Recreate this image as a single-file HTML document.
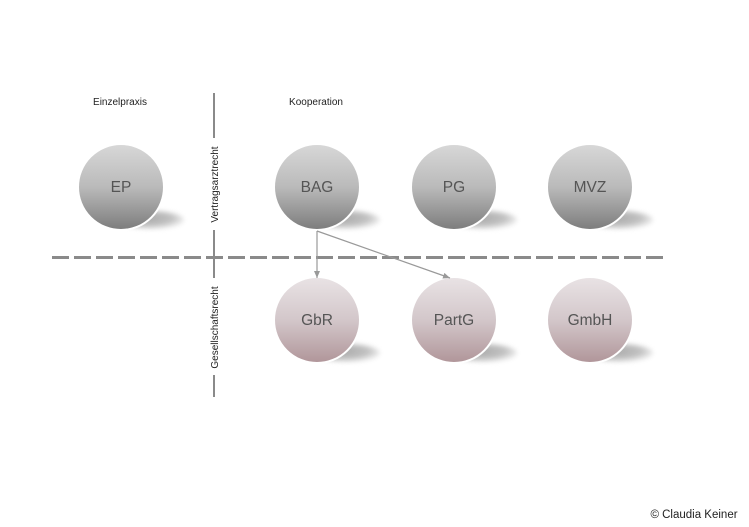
<!DOCTYPE html>
<html>
<head>
<meta charset="utf-8">
<style>
html,body{margin:0;padding:0;background:#fff;}
svg{display:block;}
text{font-family:"Liberation Sans",Arial,sans-serif;}
</style>
</head>
<body>
<svg width="749" height="527" viewBox="0 0 749 527" xmlns="http://www.w3.org/2000/svg">
<defs>
  <linearGradient id="gray" x1="0" y1="0" x2="0" y2="1">
    <stop offset="0" stop-color="#d8d8d8"/>
    <stop offset="0.5" stop-color="#bababa"/>
    <stop offset="1" stop-color="#7c7c7c"/>
  </linearGradient>
  <linearGradient id="pink" x1="0" y1="0" x2="0" y2="1">
    <stop offset="0" stop-color="#e9e3e5"/>
    <stop offset="0.5" stop-color="#d3c7ca"/>
    <stop offset="1" stop-color="#b09599"/>
  </linearGradient>
  <radialGradient id="sh" cx="0.4" cy="0.4" r="0.6">
    <stop offset="0" stop-color="#9a9a9a"/>
    <stop offset="0.7" stop-color="#b8b8b8"/>
    <stop offset="1" stop-color="#e8e8e8"/>
  </radialGradient>
  <filter id="blur" x="-50%" y="-50%" width="200%" height="200%">
    <feGaussianBlur stdDeviation="2.5"/>
  </filter>
  <marker id="ah" markerWidth="8" markerHeight="8" refX="7" refY="4" orient="auto" markerUnits="userSpaceOnUse">
    <path d="M0,1 L7,4 L0,7 Z" fill="#999"/>
  </marker>
</defs>

<!-- headings -->
<text x="120" y="105" font-size="10" fill="#222" text-anchor="middle">Einzelpraxis</text>
<text x="316" y="105" font-size="10" fill="#222" text-anchor="middle">Kooperation</text>

<!-- vertical axis -->
<g stroke="#8a8a8a" stroke-width="2">
  <line x1="214" y1="93" x2="214" y2="138"/>
  <line x1="214" y1="230" x2="214" y2="278"/>
  <line x1="214" y1="375" x2="214" y2="397"/>
</g>
<text transform="translate(218,184.5) rotate(-90)" font-size="10" fill="#222" text-anchor="middle">Vertragsarztrecht</text>
<text transform="translate(218,327.5) rotate(-90)" font-size="10" fill="#222" text-anchor="middle">Gesellschaftsrecht</text>

<!-- dashed horizontal -->
<line x1="52" y1="257.5" x2="666" y2="257.5" stroke="#8a8a8a" stroke-width="3" stroke-dasharray="17 5"/>

<!-- shadows -->
<g fill="url(#sh)" filter="url(#blur)" opacity="0.85">
  <ellipse cx="152" cy="220" rx="32" ry="9"/>
  <ellipse cx="348" cy="220" rx="32" ry="9"/>
  <ellipse cx="485" cy="220" rx="32" ry="9"/>
  <ellipse cx="621" cy="220" rx="32" ry="9"/>
  <ellipse cx="348" cy="353" rx="32" ry="9"/>
  <ellipse cx="485" cy="353" rx="32" ry="9"/>
  <ellipse cx="621" cy="353" rx="32" ry="9"/>
</g>

<!-- circles -->
<g stroke="#fff" stroke-width="2">
  <circle cx="121" cy="187" r="43" fill="url(#gray)"/>
  <circle cx="317" cy="187" r="43" fill="url(#gray)"/>
  <circle cx="454" cy="187" r="43" fill="url(#gray)"/>
  <circle cx="590" cy="187" r="43" fill="url(#gray)"/>
  <circle cx="317" cy="320" r="43" fill="url(#pink)"/>
  <circle cx="454" cy="320" r="43" fill="url(#pink)"/>
  <circle cx="590" cy="320" r="43" fill="url(#pink)"/>
</g>

<!-- arrows -->
<g stroke="#999" stroke-width="1.2" fill="none">
  <line x1="317" y1="231" x2="317" y2="278" marker-end="url(#ah)"/>
  <line x1="317" y1="231" x2="450" y2="278" marker-end="url(#ah)"/>
</g>

<!-- labels -->
<g font-size="15.5" fill="#555" text-anchor="middle">
  <text x="121" y="192">EP</text>
  <text x="317" y="192">BAG</text>
  <text x="454" y="192">PG</text>
  <text x="590" y="192">MVZ</text>
  <text x="317" y="325">GbR</text>
  <text x="454" y="325">PartG</text>
  <text x="590" y="325">GmbH</text>
</g>

<text x="694" y="518" font-size="11.5" fill="#222" text-anchor="middle">© Claudia Keiner</text>
</svg>
</body>
</html>
